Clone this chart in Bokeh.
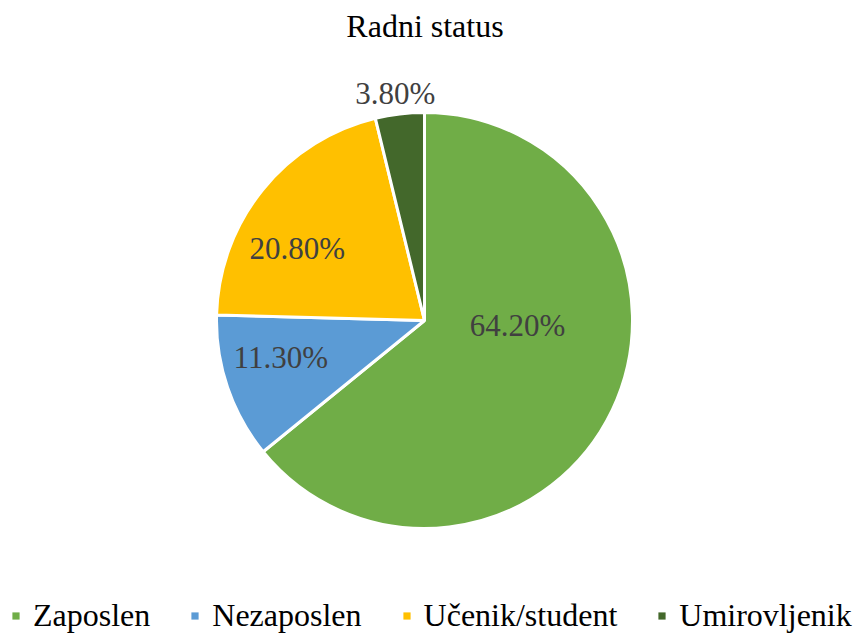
import math
from bokeh.plotting import figure
from bokeh.models import ColumnDataSource, Legend, LegendItem, Label, Range1d
from bokeh.core.properties import value
from bokeh.embed import file_html
from bokeh.resources import INLINE

# ---- data ----
categories = ["Zaposlen", "Nezaposlen", "Učenik/student", "Umirovljenik"]
shares = [64.2, 11.3, 20.8, 3.8]
colors = ["#70AD47", "#5B9BD5", "#FFC000", "#43682B"]
title_text = "Radni status"

# ---- label placement styles (radius fraction, angular shift in degrees) ----
label_r_frac = [0.448, 0.713, 0.702, 1.10]
label_shift = [22.5, -4.5, 9.6, 0.5]

W, H = 854, 633
cx, cy, R = 424, 313, 208
FONT = "Liberation Serif"

total = sum(shares)
starts, ends, lx, ly, texts = [], [], [], [], []
cum = 0.0
for i, s in enumerate(shares):
    a0 = math.pi / 2 - 2 * math.pi * cum / total
    a1 = math.pi / 2 - 2 * math.pi * (cum + s) / total
    starts.append(a0)
    ends.append(a1)
    mid = (a0 + a1) / 2 + math.radians(label_shift[i])
    lx.append(cx + R * label_r_frac[i] * math.cos(mid))
    ly.append(cy + R * label_r_frac[i] * math.sin(mid))
    texts.append(f"{s:.2f}%")
    cum += s

src = ColumnDataSource(dict(cat=categories, start=starts, end=ends, color=colors,
                            lx=lx, ly=ly, text=texts))

p = figure(width=W, height=H, output_backend="svg", toolbar_location=None,
           x_range=Range1d(0, W), y_range=Range1d(0, H),
           x_axis_location=None, y_axis_location=None, min_border=0)
p.grid.visible = False
p.outline_line_color = None
p.background_fill_color = "white"

p.wedge(x=cx, y=cy, radius=R, start_angle="start", end_angle="end", direction="clock",
        fill_color="color", line_color="white", line_width=3, source=src)

# invisible renderer used only for legend swatches
leg_r = p.wedge(x=cx, y=cy, radius=0, start_angle="start", end_angle="end", direction="clock",
                fill_color="color", line_color=None, source=src)

p.text(x="lx", y="ly", text="text", source=src, text_align="center", text_baseline="middle",
       text_font=value(FONT), text_font_size="31px", text_color="#404040")

p.add_layout(Label(x=424.5, y=608, text=title_text, text_align="center",
                   text_baseline="middle", text_font=FONT, text_font_size="32px",
                   text_color="#000000"))

items = [LegendItem(label=c, renderers=[leg_r], index=i) for i, c in enumerate(categories)]
legend = Legend(items=items, orientation="horizontal", location=(11, -1),
                glyph_width=9, glyph_height=9, label_standoff=13, spacing=40,
                padding=0, margin=0, border_line_color=None, background_fill_alpha=0,
                label_text_font=FONT, label_text_font_size="32px", label_text_color="#000000",
                label_height=30)
p.add_layout(legend, "center")

open("out.html", "w").write(file_html(p, INLINE))
